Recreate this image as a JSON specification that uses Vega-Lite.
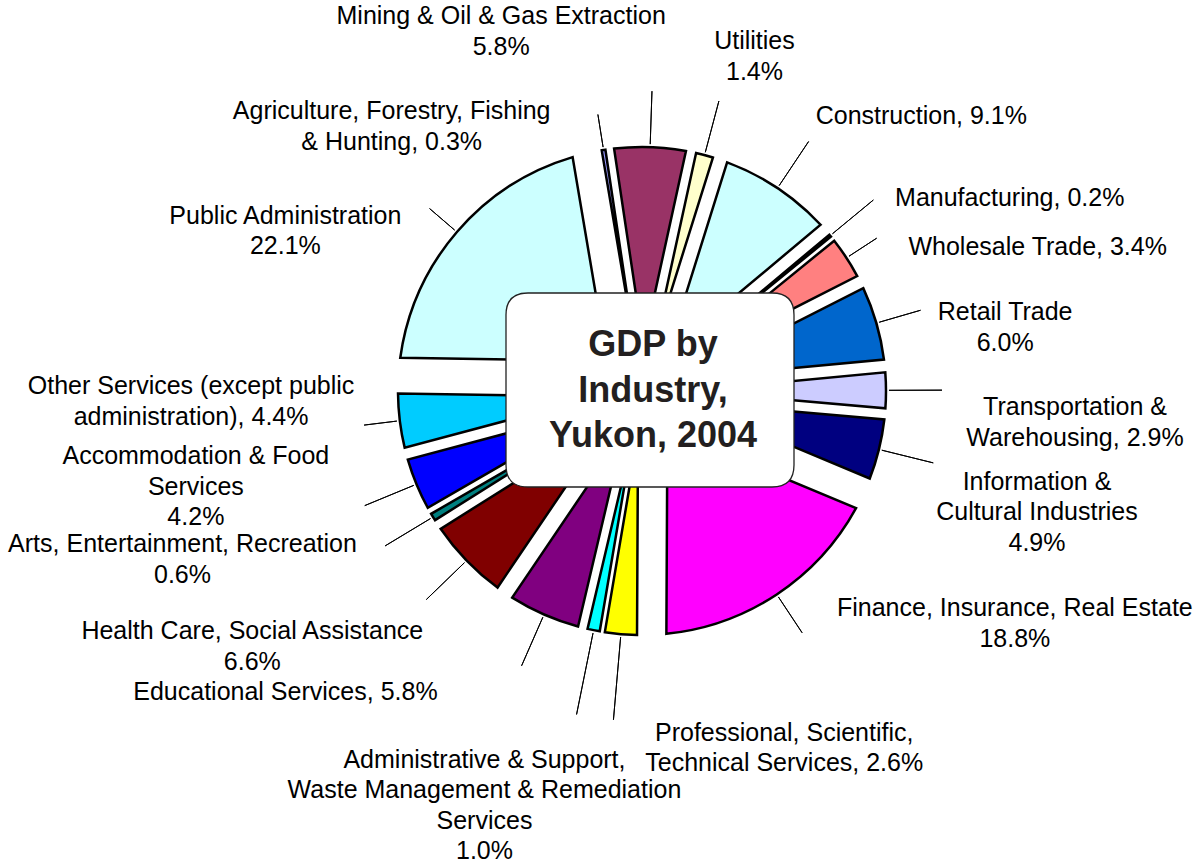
{
  "$schema": "https://vega.github.io/schema/vega-lite/v6.json",
  "width": 1116,
  "height": 782,
  "autosize": {"type": "none"},
  "padding": {"left": 84, "top": 0, "right": 0, "bottom": 83},
  "background": "white",
  "config": {
    "view": {"stroke": null},
    "text": {"font": "Liberation Sans", "fontSize": 25, "lineHeight": 30.5, "lineBreak": "\n", "baseline": "middle", "color": "black"}
  },
  "layer": [
    {
      "data": {
        "values": [
          {"ord": 1, "name": "Agriculture, Forestry, Fishing & Hunting", "value": 0.3, "label": "Agriculture, Forestry, Fishing\n& Hunting, 0.3%"},
          {"ord": 2, "name": "Mining & Oil & Gas Extraction", "value": 5.8, "label": "Mining & Oil & Gas Extraction\n5.8%"},
          {"ord": 3, "name": "Utilities", "value": 1.4, "label": "Utilities\n1.4%"},
          {"ord": 4, "name": "Construction", "value": 9.1, "label": "Construction, 9.1%"},
          {"ord": 5, "name": "Manufacturing", "value": 0.2, "label": "Manufacturing, 0.2%"},
          {"ord": 6, "name": "Wholesale Trade", "value": 3.4, "label": "Wholesale Trade, 3.4%"},
          {"ord": 7, "name": "Retail Trade", "value": 6.0, "label": "Retail Trade\n6.0%"},
          {"ord": 8, "name": "Transportation & Warehousing", "value": 2.9, "label": "Transportation &\nWarehousing, 2.9%"},
          {"ord": 9, "name": "Information & Cultural Industries", "value": 4.9, "label": "Information &\nCultural Industries\n4.9%"},
          {"ord": 10, "name": "Finance, Insurance, Real Estate", "value": 18.8, "label": "Finance, Insurance, Real Estate\n18.8%"},
          {"ord": 11, "name": "Professional, Scientific, Technical Services", "value": 2.6, "label": "Professional, Scientific,\nTechnical Services, 2.6%"},
          {"ord": 12, "name": "Administrative & Support, Waste Management & Remediation Services", "value": 1.0, "label": "Administrative & Support,\nWaste Management & Remediation\nServices\n1.0%"},
          {"ord": 13, "name": "Educational Services", "value": 5.8, "label": "Educational Services, 5.8%"},
          {"ord": 14, "name": "Health Care, Social Assistance", "value": 6.6, "label": "Health Care, Social Assistance\n6.6%"},
          {"ord": 15, "name": "Arts, Entertainment, Recreation", "value": 0.6, "label": "Arts, Entertainment, Recreation\n0.6%"},
          {"ord": 16, "name": "Accommodation & Food Services", "value": 4.2, "label": "Accommodation & Food\nServices\n4.2%"},
          {"ord": 17, "name": "Other Services (except public administration)", "value": 4.4, "label": "Other Services (except public\nadministration), 4.4%"},
          {"ord": 18, "name": "Public Administration", "value": 22.1, "label": "Public Administration\n22.1%"}
        ]
      },
      "encoding": {
        "theta": {"field": "value", "type": "quantitative", "stack": true, "scale": {"domain": [0, 100.1], "range": [-0.1676, 6.1156]}},
        "order": {"field": "ord", "type": "quantitative"}
      },
      "layer": [
        {
          "mark": {"type": "arc", "radius": 244, "radius2": 46, "padAngle": {"expr": "2*asin(46*sin(PI*datum.value/100.1)/248.3)"}, "stroke": "black", "strokeWidth": 2.5, "strokeJoin": "miter"},
          "encoding": {
            "color": {
              "field": "name", "type": "nominal", "legend": null,
              "scale": {
                "domain": ["Agriculture, Forestry, Fishing & Hunting", "Mining & Oil & Gas Extraction", "Utilities", "Construction", "Manufacturing", "Wholesale Trade", "Retail Trade", "Transportation & Warehousing", "Information & Cultural Industries", "Finance, Insurance, Real Estate", "Professional, Scientific, Technical Services", "Administrative & Support, Waste Management & Remediation Services", "Educational Services", "Health Care, Social Assistance", "Arts, Entertainment, Recreation", "Accommodation & Food Services", "Other Services (except public administration)", "Public Administration"],
                "range": ["#9999FF", "#993366", "#FFFFCC", "#CCFFFF", "#660066", "#FF8080", "#0066CC", "#CCCCFF", "#000080", "#FF00FF", "#FFFF00", "#00FFFF", "#800080", "#800000", "#008080", "#0000FF", "#00CCFF", "#CCFFFF"]
              }
            }
          }
        },
        {
          "mark": {"type": "arc", "padAngle": 3, "radius": 280, "radius2": 247, "stroke": "black", "strokeWidth": 1, "fillOpacity": 0},
          "encoding": {"strokeOpacity": {"condition": {"test": "indexof([1,6,17,18], datum.ord) >= 0", "value": 1}, "value": 0}}
        },
        {
          "mark": {"type": "arc", "padAngle": 3, "radius": 290, "radius2": 247, "stroke": "black", "strokeWidth": 1, "fillOpacity": 0},
          "encoding": {"strokeOpacity": {"condition": {"test": "indexof([7,10], datum.ord) >= 0", "value": 1}, "value": 0}}
        },
        {
          "mark": {"type": "arc", "padAngle": 3, "radius": 300, "radius2": 247, "stroke": "black", "strokeWidth": 1, "fillOpacity": 0},
          "encoding": {"strokeOpacity": {"condition": {"test": "indexof([2,3,4,5,8,9,13,14,15,16], datum.ord) >= 0", "value": 1}, "value": 0}}
        },
        {
          "mark": {"type": "arc", "padAngle": 3, "radius": 330, "radius2": 247, "stroke": "black", "strokeWidth": 1, "fillOpacity": 0},
          "encoding": {"strokeOpacity": {"condition": {"test": "indexof([11,12], datum.ord) >= 0", "value": 1}, "value": 0}}
        },
        {"mark": {"type": "text", "radius": 275, "align": "center", "dx": -207, "dy": -8}, "encoding": {"text": {"condition": {"test": "datum.ord == 1", "field": "label", "type": "nominal"}, "value": ""}}},
        {"mark": {"type": "text", "radius": 275, "align": "center", "dx": -150, "dy": -100}, "encoding": {"text": {"condition": {"test": "datum.ord == 2", "field": "label", "type": "nominal"}, "value": ""}}},
        {"mark": {"type": "text", "radius": 275, "align": "center", "dx": 42, "dy": -84}, "encoding": {"text": {"condition": {"test": "datum.ord == 3", "field": "label", "type": "nominal"}, "value": ""}}},
        {"mark": {"type": "text", "radius": 275, "align": "left", "dx": 21, "dy": -46}, "encoding": {"text": {"condition": {"test": "datum.ord == 4", "field": "label", "type": "nominal"}, "value": ""}}},
        {"mark": {"type": "text", "radius": 275, "align": "left", "dx": 41, "dy": -18}, "encoding": {"text": {"condition": {"test": "datum.ord == 5", "field": "label", "type": "nominal"}, "value": ""}}},
        {"mark": {"type": "text", "radius": 275, "align": "left", "dx": 36, "dy": 6}, "encoding": {"text": {"condition": {"test": "datum.ord == 6", "field": "label", "type": "nominal"}, "value": ""}}},
        {"mark": {"type": "text", "radius": 275, "align": "center", "dx": 99, "dy": -2}, "encoding": {"text": {"condition": {"test": "datum.ord == 7", "field": "label", "type": "nominal"}, "value": ""}}},
        {"mark": {"type": "text", "radius": 275, "align": "center", "dx": 158, "dy": 17}, "encoding": {"text": {"condition": {"test": "datum.ord == 8", "field": "label", "type": "nominal"}, "value": ""}}},
        {"mark": {"type": "text", "radius": 275, "align": "center", "dx": 128, "dy": 25}, "encoding": {"text": {"condition": {"test": "datum.ord == 9", "field": "label", "type": "nominal"}, "value": ""}}},
        {"mark": {"type": "text", "radius": 275, "align": "center", "dx": 221, "dy": -12}, "encoding": {"text": {"condition": {"test": "datum.ord == 10", "field": "label", "type": "nominal"}, "value": ""}}},
        {"mark": {"type": "text", "radius": 275, "align": "center", "dx": 166, "dy": 68}, "encoding": {"text": {"condition": {"test": "datum.ord == 11", "field": "label", "type": "nominal"}, "value": ""}}},
        {"mark": {"type": "text", "radius": 275, "align": "center", "dx": -103, "dy": 99}, "encoding": {"text": {"condition": {"test": "datum.ord == 12", "field": "label", "type": "nominal"}, "value": ""}}},
        {"mark": {"type": "text", "radius": 275, "align": "right", "dx": -94, "dy": 49}, "encoding": {"text": {"condition": {"test": "datum.ord == 13", "field": "label", "type": "nominal"}, "value": ""}}},
        {"mark": {"type": "text", "radius": 275, "align": "center", "dx": -192, "dy": 49}, "encoding": {"text": {"condition": {"test": "datum.ord == 14", "field": "label", "type": "nominal"}, "value": ""}}},
        {"mark": {"type": "text", "radius": 275, "align": "center", "dx": -224, "dy": 11}, "encoding": {"text": {"condition": {"test": "datum.ord == 15", "field": "label", "type": "nominal"}, "value": ""}}},
        {"mark": {"type": "text", "radius": 275, "align": "center", "dx": -192, "dy": -40}, "encoding": {"text": {"condition": {"test": "datum.ord == 16", "field": "label", "type": "nominal"}, "value": ""}}},
        {"mark": {"type": "text", "radius": 275, "align": "center", "dx": -178, "dy": -38}, "encoding": {"text": {"condition": {"test": "datum.ord == 17", "field": "label", "type": "nominal"}, "value": ""}}},
        {"mark": {"type": "text", "radius": 275, "align": "center", "dx": -148, "dy": 4}, "encoding": {"text": {"condition": {"test": "datum.ord == 18", "field": "label", "type": "nominal"}, "value": ""}}}
      ]
    },
    {
      "data": {"values": [{"k": 1}]},
      "layer": [
        {
          "mark": {"type": "point", "shape": "M-1.14,-0.98H1.30Q1.52,-0.98 1.52,-0.76V0.74Q1.52,0.96 1.30,0.96H-1.14Q-1.36,0.96 -1.36,0.74V-0.76Q-1.36,-0.98 -1.14,-0.98Z", "size": 40000, "filled": true, "fill": "white", "stroke": "#222222", "strokeWidth": 1.3, "opacity": 1},
          "encoding": {}
        },
        {
          "mark": {"type": "text", "text": ["GDP by", "Industry,", "Yukon, 2004"], "fontSize": 36, "fontWeight": "bold", "lineHeight": 45.5, "align": "center", "dx": 11, "dy": -46, "color": "#231F20"},
          "encoding": {}
        }
      ]
    }
  ]
}
